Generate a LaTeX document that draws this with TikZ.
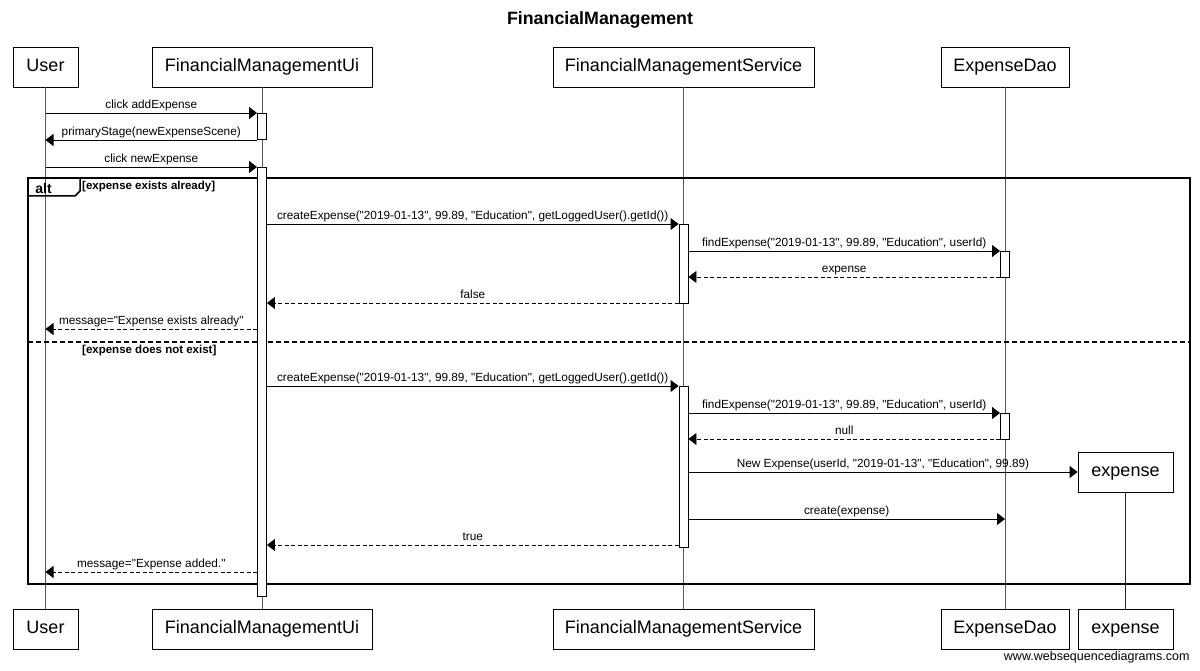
\documentclass[tikz,border=0pt]{standalone}
\usepackage{fontspec}
\setmainfont{Liberation Sans}
\newfontfamily\diagfont{Liberation Sans}
\usepackage{tikz}
\usetikzlibrary{arrows.meta,positioning}

\newcommand{\msgfont}{\diagfont\fontsize{11.8}{13}\selectfont}
\newcommand{\boxfont}{\diagfont\fontsize{18}{20}\selectfont}

\tikzset{
  actor/.style={draw, line width=0.9pt, fill=white, minimum height=40pt, inner sep=0pt,
    text height=13pt, text depth=3.8pt, font=\boxfont},
  lifeline/.style={draw=black!65, line width=1pt},
  activation/.style={draw, line width=0.9pt, fill=white, minimum width=9pt, inner sep=0pt},
  msg/.style={line width=0.9pt, -{Triangle[length=8pt,width=12pt]}},
  reply/.style={msg, dash pattern=on 4pt off 2.5pt},
  lbl/.style={anchor=south, inner sep=1.5pt, text depth=2.4pt, font=\msgfont},
  guard/.style={anchor=west, inner sep=0pt, font=\diagfont\fontsize{11.5}{13}\selectfont\bfseries}
}

\begin{document}
\begin{tikzpicture}[x=1pt,y=1pt,yscale=-1]
\useasboundingbox (0,0) rectangle (1200,671);

% Title
\node[font=\diagfont\fontsize{17.8}{20}\selectfont\bfseries] (title) at (600,20) {FinancialManagement};

% Participants (top)
\node[actor, minimum width=65pt] (userTop) at (45.5,67) {User};
\node[actor, minimum width=220pt] (uiTop) at (262,67) {FinancialManagementUi};
\node[actor, minimum width=261pt] (serviceTop) at (683.5,67) {FinancialManagementService};
\node[actor, minimum width=128pt] (daoTop) at (1005,67) {ExpenseDao};
% Participants (bottom)
\node[actor, minimum width=65pt] (userBot) at (45.5,629) {User};
\node[actor, minimum width=220pt] (uiBot) at (262,629) {FinancialManagementUi};
\node[actor, minimum width=261pt] (serviceBot) at (683.5,629) {FinancialManagementService};
\node[actor, minimum width=128pt] (daoBot) at (1005,629) {ExpenseDao};
\node[actor, minimum width=95pt] (expenseBot) at (1125.5,629) {expense};

% Lifelines
\draw[lifeline] (userTop) -- (userBot);
\draw[lifeline] (uiTop) -- (uiBot);
\draw[lifeline] (serviceTop) -- (serviceBot);
\draw[lifeline] (daoTop) -- (daoBot);

% Created object
\node[actor, minimum width=95pt] (expenseObj) at (1125.5,472) {expense};
\draw[lifeline, draw=black!85] (expenseObj) -- (expenseBot);

% alt frame
\draw[line width=1.8pt] (28,178) rectangle (1190,584);
\draw[line width=1.5pt] (28,196) -- (75,196) -- (80,191) -- (80,178);
\node[font=\diagfont\fontsize{14}{16}\selectfont\bfseries] (altTag) at (43.5,188) {alt};
\node[guard] (guardA) at (82,187) {[expense exists already]};
\draw[line width=1.6pt, dash pattern=on 5pt off 3pt] (28,342) -- (1190,342);
\node[guard] (guardB) at (82,351) {[expense does not exist]};

% Activations
\node[activation, minimum height=26pt] (uiAct1) at (262,126) {};
\node[activation, minimum height=429pt] (uiAct2) at (262,381.5) {};
\node[activation, minimum height=79pt] (svcAct1) at (683.5,263.5) {};
\node[activation, minimum height=161pt] (svcAct2) at (683.5,466.5) {};
\node[activation, minimum height=26pt] (daoAct1) at (1005,264) {};
\node[activation, minimum height=26pt] (daoAct2) at (1005,426) {};

% Messages
\draw[msg] (userTop |- 0,113) -- node[lbl] {click addExpense} (uiAct1.west |- 0,113);
\draw[msg] (uiAct1.west |- 0,140) -- node[lbl] {primaryStage(newExpenseScene)} (userTop |- 0,140);
\draw[msg] (userTop |- 0,167) -- node[lbl] {click newExpense} (uiAct2.west |- 0,167);

% expense exists already
\draw[msg] (uiAct2.east |- 0,224) -- node[lbl] {createExpense("2019-01-13", 99.89, "Education", getLoggedUser().getId())} (svcAct1.west |- 0,224);
\draw[msg] (svcAct1.east |- 0,251) -- node[lbl] {findExpense("2019-01-13", 99.89, "Education", userId)} (daoAct1.west |- 0,251);
\draw[reply] (daoAct1.west |- 0,277) -- node[lbl] {expense} (svcAct1.east |- 0,277);
\draw[reply] (svcAct1.west |- 0,303) -- node[lbl] {false} (uiAct2.east |- 0,303);
\draw[reply] (uiAct2.west |- 0,329) -- node[lbl] {message="Expense exists already"} (userTop |- 0,329);

% expense does not exist
\draw[msg] (uiAct2.east |- 0,386) -- node[lbl] {createExpense("2019-01-13", 99.89, "Education", getLoggedUser().getId())} (svcAct2.west |- 0,386);
\draw[msg] (svcAct2.east |- 0,413) -- node[lbl] {findExpense("2019-01-13", 99.89, "Education", userId)} (daoAct2.west |- 0,413);
\draw[reply] (daoAct2.west |- 0,439) -- node[lbl] {null} (svcAct2.east |- 0,439);
\draw[msg] (svcAct2.east |- expenseObj.west) -- node[lbl] {New Expense(userId, "2019-01-13", "Education", 99.89)} (expenseObj.west);
\draw[msg] (svcAct2.east |- 0,519) -- node[lbl] {create(expense)} (daoTop |- 0,519);
\draw[reply] (svcAct2.west |- 0,545) -- node[lbl] {true} (uiAct2.east |- 0,545);
\draw[reply] (uiAct2.west |- 0,572) -- node[lbl] {message="Expense added."} (userTop |- 0,572);

% Footer
\node[anchor=east, font=\diagfont\fontsize{12.5}{14}\selectfont] (credit) at (1193,657) {www.websequencediagrams.com};

\end{tikzpicture}
\end{document}
